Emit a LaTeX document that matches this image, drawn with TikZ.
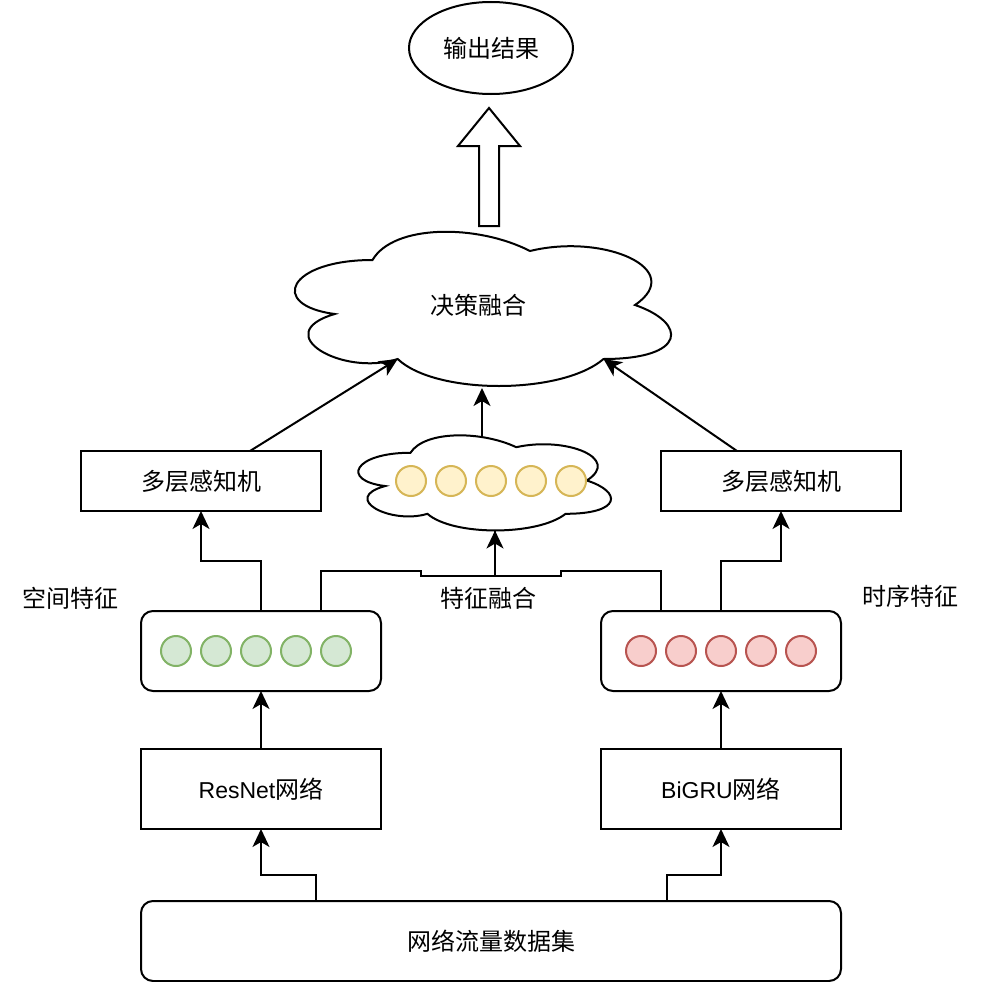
\documentclass[tikz,border=0pt]{standalone}
\usepackage{fontspec}
\setmainfont{Noto Sans CJK SC}
\newfontfamily\lat{Liberation Sans}
\usetikzlibrary{arrows.meta,shapes.geometric,calc}
\definecolor{gfill}{HTML}{D5E8D4}\definecolor{gdraw}{HTML}{82B366}
\definecolor{rfill}{HTML}{F8CECC}\definecolor{rdraw}{HTML}{B85450}
\definecolor{yfill}{HTML}{FFF2CC}\definecolor{ydraw}{HTML}{D6B656}
\newcommand\dcloud[4]{%
 \draw[ln,fill=white] ({#1+0.25*#3},{#2+0.25*#4}) .. controls ({#1+0.05*#3},{#2+0.25*#4}) and ({#1},{#2+0.5*#4}) .. ({#1+0.16*#3},{#2+0.55*#4})
  .. controls ({#1},{#2+0.66*#4}) and ({#1+0.18*#3},{#2+0.9*#4}) .. ({#1+0.31*#3},{#2+0.8*#4})
  .. controls ({#1+0.4*#3},{#2+#4}) and ({#1+0.7*#3},{#2+#4}) .. ({#1+0.8*#3},{#2+0.8*#4})
  .. controls ({#1+#3},{#2+0.8*#4}) and ({#1+#3},{#2+0.6*#4}) .. ({#1+0.875*#3},{#2+0.5*#4})
  .. controls ({#1+#3},{#2+0.3*#4}) and ({#1+0.8*#3},{#2+0.1*#4}) .. ({#1+0.625*#3},{#2+0.2*#4})
  .. controls ({#1+0.5*#3},{#2+0.05*#4}) and ({#1+0.3*#3},{#2+0.05*#4}) .. cycle;}
\tikzset{
 ln/.style={line width=2pt, draw=black, line join=miter},
 arr/.style={ln, -{Stealth[length=18pt,width=17pt,inset=5pt]}},
 box/.style={ln, rectangle, minimum width=240pt, minimum height=80pt, inner sep=0pt, outer sep=0pt, font=\fontsize{24}{28}\selectfont},
 rbox/.style={box, rounded corners=12pt},
 mlp/.style={box, minimum height=60pt},
 dot/.style={circle, line width=2pt, minimum size=30pt, inner sep=0pt},
 gdot/.style={dot, draw=gdraw, fill=gfill},
 rdot/.style={dot, draw=rdraw, fill=rfill},
 ydot/.style={dot, draw=ydraw, fill=yfill},
 lbl/.style={inner sep=0pt, font=\fontsize{24}{28}\selectfont},
}
\begin{document}
\begin{tikzpicture}[x=1pt,y=-1pt]
\fill[white] (0,0) rectangle (980,982);
\useasboundingbox (0,0) rectangle (980,982);
% output
\node[ln, ellipse, minimum width=164pt, minimum height=92pt, inner sep=0pt, font=\fontsize{24}{28}\selectfont] (out) at (491,48) {输出结果};
% block arrow
\draw[ln] (479,226) -- (479,146) -- (458,146) -- (489,108) -- (520,146) -- (499,146) -- (499,226) -- cycle;
% decision fusion cloud
\dcloud{267.5}{215}{420}{180}
\node[lbl] (dec) at (478,305) {决策融合};
\coordinate (decL) at (397.7,359);
\coordinate (decR) at (603.5,359);
\coordinate (decB) at (482,388);
% feature cloud
\dcloud{340}{425}{282}{111}
\coordinate (fcT) at (482,437);
\coordinate (fcB) at (495,530.5);
\foreach \i [count=\k] in {411,451,491,531,571} \node[ydot] (y\k) at (\i,481) {};
% MLPs
\node[mlp] (mlpL) at (201,481) {多层感知机};
\node[mlp] (mlpR) at (781,481) {多层感知机};
% feature boxes
\node[rbox] (green) at (261,651) {};
\node[rbox] (red) at (721,651) {};
\foreach \i [count=\k] in {176,216,256,296,336} \node[gdot] (g\k) at (\i,651) {};
\foreach \i [count=\k] in {641,681,721,761,801} \node[rdot] (r\k) at (\i,651) {};
% networks
\node[box] (resnet) at (261,789) {{\lat\fontsize{23}{27}\selectfont ResNet}网络};
\node[box] (bigru) at (721,789) {{\lat\fontsize{23}{27}\selectfont BiGRU}网络};
% dataset
\node[rbox, minimum width=700pt] (data) at (491,941) {网络流量数据集};
% labels
\node[lbl] (sp) at (70,598) {空间特征};
\node[lbl] (tm) at (910,596) {时序特征};
\node[lbl] (ff) at (488,598) {特征融合};
% connectors
\draw[arr] ([xshift=-175pt]data.north) -- ++(0,-26) -| (resnet.south);
\draw[arr] ([xshift=176pt]data.north) -- ++(0,-26) -| (bigru.south);
\draw[arr] (resnet.north) -- (green.south);
\draw[arr] (bigru.north) -- (red.south);
\draw[arr] (green.north) -- ++(0,-50) -| (mlpL.south);
\draw[arr] (red.north) -- ++(0,-50) -| (mlpR.south);
\draw[arr] ([xshift=60pt]green.north) |- ++(100,-40) -- ++(0,5) -| (fcB);
\draw[ln] ([xshift=-60pt]red.north) |- ++(-100,-40) -- ++(0,5) -| (fcB);
\draw[arr] (fcT) -- (decB);
\draw[arr] ([xshift=49pt]mlpL.north) -- (decL);
\draw[arr] ([xshift=-44pt]mlpR.north) -- (decR);
\end{tikzpicture}
\end{document}
